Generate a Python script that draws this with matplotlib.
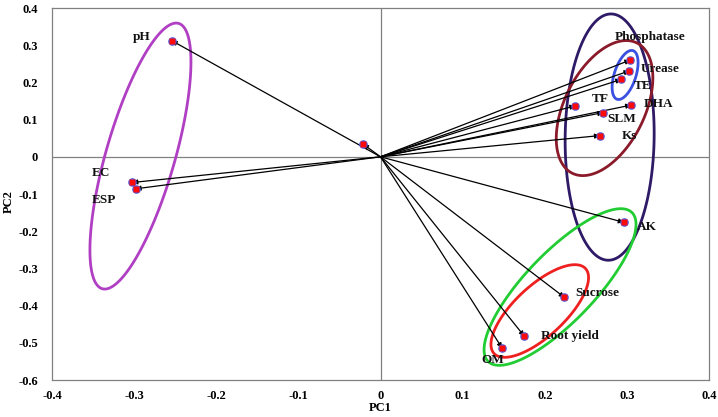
import numpy as np
import matplotlib
matplotlib.use("Agg")
import matplotlib.pyplot as plt
from matplotlib.patches import Polygon

# ---- data ----
variables = ["pH", "", "EC", "ESP", "Phosphatase", "Urease", "TE", "TF", "DHA",
             "SLM", "Ks", "AK", "Sucrose", "Root yield", "OM"]
pc1 = [-0.254, -0.021, -0.302, -0.298, 0.304, 0.303, 0.293, 0.237, 0.305,
       0.271, 0.267, 0.296, 0.224, 0.175, 0.148]
pc2 = [0.312, 0.034, -0.069, -0.086, 0.260, 0.231, 0.208, 0.137, 0.139,
       0.119, 0.057, -0.176, -0.378, -0.482, -0.514]

x_ticks = [-0.4, -0.3, -0.2, -0.1, 0, 0.1, 0.2, 0.3, 0.4]
y_ticks = [0.4, 0.3, 0.2, 0.1, 0, -0.1, -0.2, -0.3, -0.4, -0.5, -0.6]

# ---- layout (label offsets in pixels) ----
label_offsets = {
    "pH": (-30, 4), "EC": (-32, 9), "ESP": (-32, -11), "Phosphatase": (20, 23),
    "Urease": (31, 2), "TE": (22, -7), "TF": (25, 7), "DHA": (28, 1),
    "SLM": (19, -6), "Ks": (30, 0), "AK": (23, -5), "Sucrose": (33, 4),
    "Root yield": (46, 0), "OM": (-9, -12),
}

# ellipses: (cx, cy, half-x-range, half-y-range, cos(phase), color)
ellipses = [
    (-0.2923, 0.002, 0.0615, 0.3575, 0.707, "#B03FC3"),
    (0.279, 0.053, 0.0542, 0.331, 0.03, "#2E1A66"),
    (0.2728, 0.131, 0.0588, 0.1815, 0.45, "#8B1A2A"),
    (0.2978, 0.220, 0.0158, 0.0659, 0.50, "#3A50E0"),
    (0.2186, -0.350, 0.0925, 0.2105, 0.80, "#22CC33"),
    (0.1939, -0.4145, 0.0594, 0.1245, 0.72, "#EE2020"),
]

fig = plt.figure(figsize=(7.18, 4.17), dpi=100)
ax = fig.add_axes([0.0724, 0.0887, 0.9151, 0.8921])
serif = ["Liberation Serif", "DejaVu Serif"]

ax.set_xlim(-0.4, 0.4)
ax.set_ylim(-0.6, 0.4)
ax.axhline(0, color="#808080", lw=0.9, zorder=1)
ax.axvline(0, color="#808080", lw=0.9, zorder=1)

for s in ax.spines.values():
    s.set_color("#808080")
    s.set_linewidth(0.9)

ax.set_xticks(x_ticks)
ax.set_yticks(y_ticks)
ax.set_xticklabels([f"{t:g}" for t in x_ticks], fontfamily=serif,
                   fontweight="bold", fontsize=9)
ax.set_yticklabels([f"{t:g}" for t in y_ticks], fontfamily=serif,
                   fontweight="bold", fontsize=9)
ax.tick_params(axis="both", length=0)
ax.tick_params(axis="x", pad=7)
ax.tick_params(axis="y", pad=10)
ax.set_xlabel("PC1", fontfamily=serif, fontweight="bold", fontsize=9)
ax.set_ylabel("PC2", fontfamily=serif, fontweight="bold", fontsize=9)
ax.xaxis.set_label_coords(0.5, -0.06)
ax.yaxis.set_label_coords(-0.056, 0.48)

# ellipses
t = np.linspace(0, 2 * np.pi, 400, endpoint=False)
for cx, cy, a, b, c, col in ellipses:
    phi = np.arccos(c)
    pts = np.column_stack([cx + a * np.cos(t), cy + b * np.cos(t + phi)])
    ax.add_patch(Polygon(pts, closed=True, fill=False, edgecolor=col, lw=2.0,
                         joinstyle="round", zorder=2))

# arrows
for x, y in zip(pc1, pc2):
    ax.annotate("", xy=(x, y), xytext=(0, 0),
                arrowprops=dict(arrowstyle="-|>", color="black", lw=0.9,
                                mutation_scale=7, shrinkA=0, shrinkB=0),
                zorder=3)

# markers
ax.plot(pc1, pc2, "o", color="#4a5ee8", ms=6.2, mec="none", zorder=4, linestyle="none")
ax.plot(pc1, pc2, "s", color="#ff0a0a", ms=4.5, mec="none", zorder=5, linestyle="none")

# labels
for name, x, y in zip(variables, pc1, pc2):
    if not name:
        continue
    dx, dy = label_offsets[name]
    ax.annotate(name, xy=(x, y), xytext=(dx, dy), textcoords="offset pixels",
                ha="center", va="center", fontfamily=serif, fontweight="bold",
                fontsize=9.5, color="#111111", zorder=6)

fig.savefig("out.png", dpi=100)
